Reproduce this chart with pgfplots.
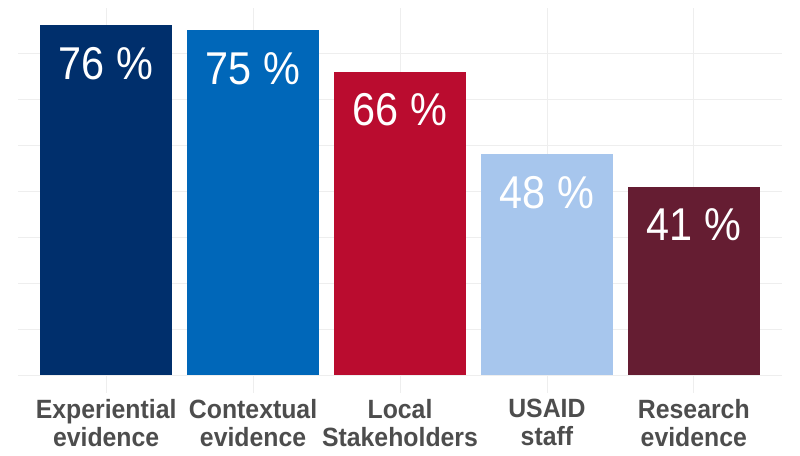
\documentclass[border=0pt]{standalone}
\usepackage{fontspec}
\setmainfont{Liberation Sans}
\newfontfamily\valfont[FakeStretch=0.9]{Liberation Sans}
\newfontfamily\labfont[FakeStretch=0.94]{Liberation Sans}
\usepackage{pgfplots}
\pgfplotsset{compat=1.18}
\definecolor{c1}{HTML}{002F6C}
\definecolor{c2}{HTML}{0067B9}
\definecolor{c3}{HTML}{BA0C2F}
\definecolor{c4}{HTML}{A7C6ED}
\definecolor{c5}{HTML}{651D32}
\definecolor{gridgray}{HTML}{EEEEEE}
\definecolor{labgray}{HTML}{4D4D4D}
\begin{document}
\begin{tikzpicture}
\useasboundingbox (-13.5pt,-47.25pt) rectangle (586.5pt,294.75pt);
\begin{axis}[
  at={(0,0)}, anchor=south west,
  scale only axis, width=573pt, height=288.75pt,
  xmin=0.4, xmax=5.6, ymin=-3.8, ymax=79.8,
  axis line style={draw=none},
  major tick length=0pt,
  /pgf/number format/assume math mode=true,
  ytick={0,10,...,70}, yticklabels={},
  xtick={1,2,3,4,5},
  xticklabels={{Experiential\\evidence},{Contextual\\evidence},{Local\\Stakeholders},{USAID\\staff},{Research\\evidence}},
  xticklabel style={align=center, font=\labfont\fontsize{19.8}{21}\selectfont\bfseries, text=labgray, anchor=north, inner sep=0pt, yshift=-4.5pt},
  grid=major, grid style={color=gridgray, line width=0.6pt},
  ybar, bar width=0.9, bar shift=0pt,
  nodes near coords={\pgfmathprintnumber{\pgfplotspointmeta} \%},
  every node near coord/.append style={text=white, font=\valfont\fontsize{34.5}{38}\selectfont, anchor=base, yshift=-40.5pt},
]
\addplot[fill=c1, draw=none] coordinates {(1,76)};
\addplot[fill=c2, draw=none] coordinates {(2,75)};
\addplot[fill=c3, draw=none] coordinates {(3,66)};
\addplot[fill=c4, draw=none] coordinates {(4,48)};
\addplot[fill=c5, draw=none] coordinates {(5,41)};
\end{axis}
\end{tikzpicture}
\end{document}
